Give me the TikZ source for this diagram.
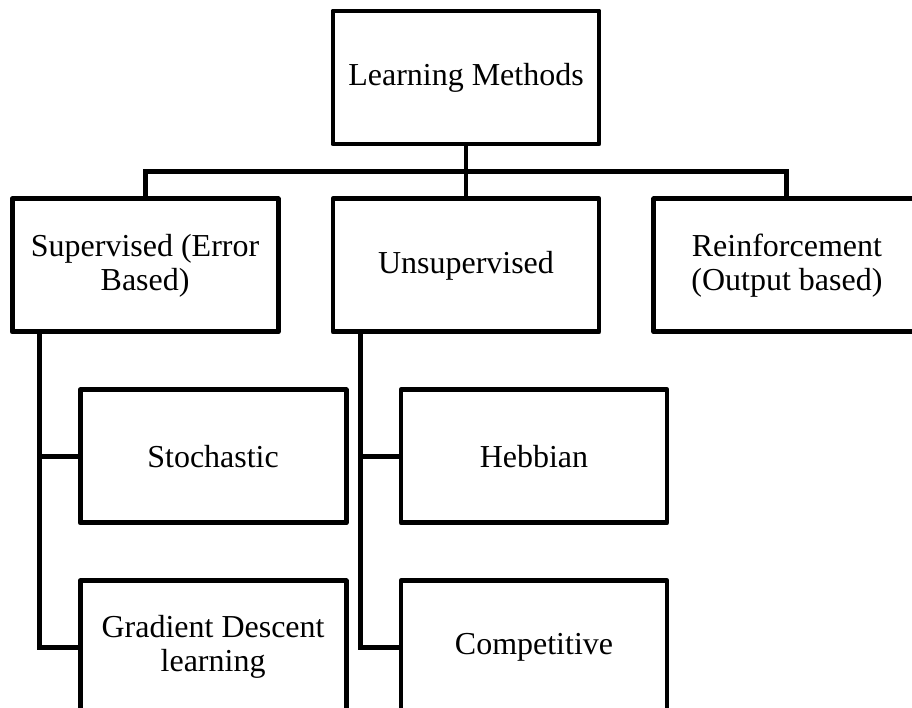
\documentclass[tikz,border=0pt]{standalone}
\usepackage{fontspec}
\setmainfont{Liberation Serif}
\usetikzlibrary{positioning,calc}

\begin{document}
\begin{tikzpicture}[
  font=\fontsize{9.1pt}{9.7pt}\selectfont,
  box/.style={draw, line width=1.4pt, line join=round, align=center,
              inner sep=2pt, minimum width=2.66cm, minimum height=1.33cm},
  link/.style={line width=1.4pt}
]
  \useasboundingbox (0,0) rectangle (9.12,-7.08);
  % top level and the three families
  \node[box] (methods) at (4.66,-0.775) {Learning Methods};
  \node[box, below=0.5cm of methods] (unsup) {Unsupervised};
  \node[box, left=0.5cm of unsup] (sup) {Supervised (Error\\Based)};
  \node[box, right=0.5cm of unsup] (reinf) {Reinforcement\\(Output based)};
  % sub-methods
  \node[box, below right=0.53cm and 0.68cm of sup.south west] (stoch) {Stochastic};
  \node[box, below=0.53cm of stoch] (grad) {Gradient Descent\\learning};
  \node[box, below right=0.53cm and 0.68cm of unsup.south west] (hebb) {Hebbian};
  \node[box, below=0.53cm of hebb] (comp) {Competitive};

  \coordinate (bus) at ($(methods.south)!0.5!(unsup.north)$);
  \draw[link] (methods.south) -- (unsup.north);
  \draw[link] (sup.north) |- (bus) -| (reinf.north);

  \coordinate (supstem) at ([xshift=0.3cm]sup.south west);
  \coordinate (unsupstem) at ([xshift=0.3cm]unsup.south west);
  \draw[link] (supstem) |- (grad.west);
  \draw[link] (stoch.west) -- (stoch.west -| supstem);
  \draw[link] (unsupstem) |- (comp.west);
  \draw[link] (hebb.west) -- (hebb.west -| unsupstem);
\end{tikzpicture}
\end{document}
